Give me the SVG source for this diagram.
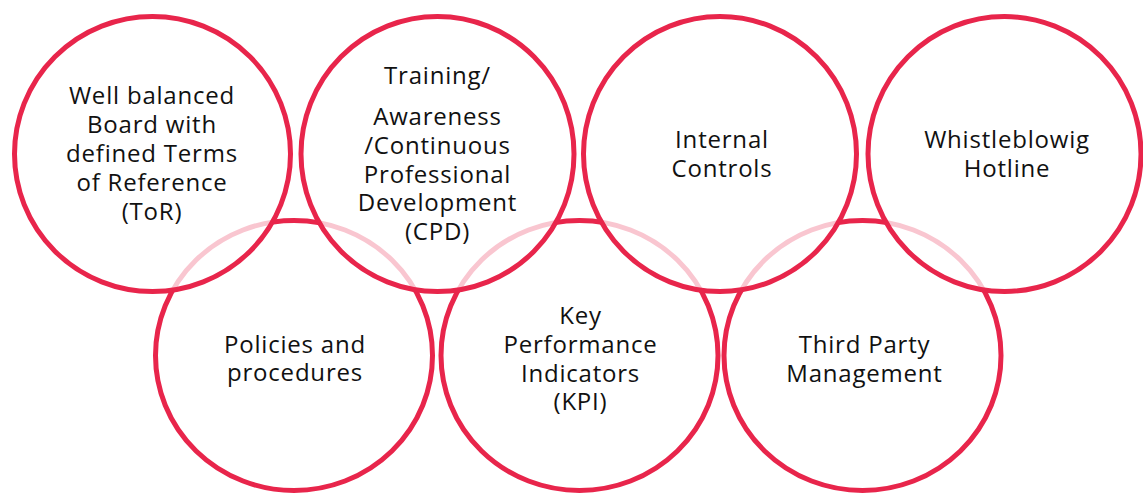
<svg xmlns="http://www.w3.org/2000/svg" width="1143" height="495" viewBox="0 0 1143 495">
<style>
.ring{stroke:#E8254B;stroke-width:5;}
.bot{fill:none;}
.top{fill:#ffffff;fill-opacity:0.74;}
.lbl{font-family:"Open Sans","Noto Sans","Liberation Sans",sans-serif;font-size:24px;letter-spacing:0.8px;fill:#111111;text-anchor:middle;}
</style>
<rect width="1143" height="495" fill="#ffffff"/>
<g id="policies">
<ellipse class="ring bot" cx="294" cy="355.5" rx="138.5" ry="135"/>
<text class="lbl" x="295" y="353">Policies and</text>
<text class="lbl" x="295" y="381">procedures</text>
</g>
<g id="kpi">
<ellipse class="ring bot" cx="579.5" cy="355.5" rx="138.5" ry="135"/>
<text class="lbl" x="580.5" y="324">Key</text>
<text class="lbl" x="580.5" y="353">Performance</text>
<text class="lbl" x="580.5" y="382">Indicators</text>
<text class="lbl" x="580.5" y="410">(KPI)</text>
</g>
<g id="third-party">
<ellipse class="ring bot" cx="862.5" cy="355.5" rx="138.5" ry="135"/>
<text class="lbl" x="864.5" y="353">Third Party</text>
<text class="lbl" x="864.5" y="382">Management</text>
</g>
<g id="board">
<ellipse class="ring top" cx="152.5" cy="154" rx="138" ry="137.5"/>
<text class="lbl" x="152" y="104">Well balanced</text>
<text class="lbl" x="152" y="133">Board with</text>
<text class="lbl" x="152" y="162">defined Terms</text>
<text class="lbl" x="152" y="191">of Reference</text>
<text class="lbl" x="152" y="220">(ToR)</text>
</g>
<g id="training">
<ellipse class="ring top" cx="437.5" cy="154" rx="136.5" ry="137.5"/>
<text class="lbl" x="437.5" y="84">Training/</text>
<text class="lbl" x="437.5" y="125">Awareness</text>
<text class="lbl" x="437.5" y="154">/Continuous</text>
<text class="lbl" x="437.5" y="183">Professional</text>
<text class="lbl" x="437.5" y="211">Development</text>
<text class="lbl" x="437.5" y="240">(CPD)</text>
</g>
<g id="internal-controls">
<ellipse class="ring top" cx="720" cy="154" rx="136.5" ry="137.5"/>
<text class="lbl" x="722" y="148">Internal</text>
<text class="lbl" x="722" y="177">Controls</text>
</g>
<g id="whistleblowing">
<ellipse class="ring top" cx="1004.5" cy="154" rx="136.5" ry="137.5"/>
<text class="lbl" x="1007" y="148">Whistleblowig</text>
<text class="lbl" x="1007" y="177">Hotline</text>
</g>
<g id="connectors"></g>
</svg>
